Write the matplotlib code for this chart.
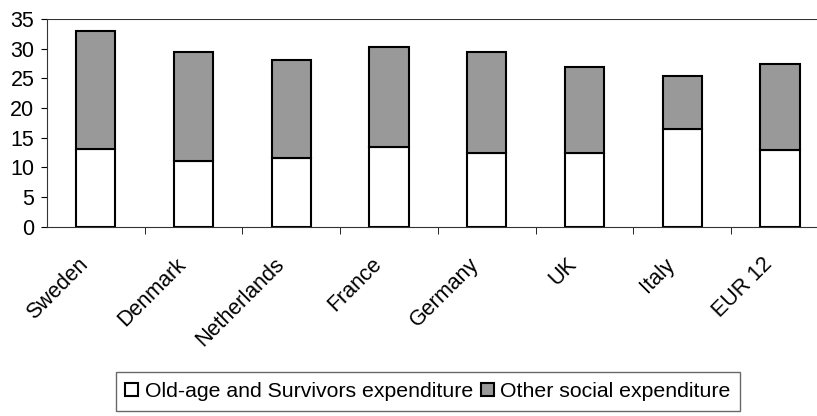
import matplotlib.pyplot as plt
import matplotlib.transforms as mtransforms
import numpy as np

plt.rcParams['font.family'] = ['Liberation Sans', 'DejaVu Sans']

countries = ['Sweden', 'Denmark', 'Netherlands', 'France', 'Germany', 'UK', 'Italy', 'EUR 12']
old_age = [13.15, 11.1, 11.65, 13.45, 12.5, 12.5, 16.4, 12.9]
totals = [33.05, 29.5, 28.05, 30.35, 29.45, 26.85, 25.4, 27.5]
other = [t - o for t, o in zip(totals, old_age)]

fig = plt.figure(figsize=(8.17, 4.16), dpi=100)
ax = fig.add_axes([0.0575, 0.455, 0.957, 0.499])

x = np.arange(len(countries))
ax.bar(x, old_age, width=0.4, color='white', edgecolor='black', linewidth=1.5,
       label='Old-age and Survivors expenditure')
ax.bar(x, other, bottom=old_age, width=0.4, color='#999999', edgecolor='black', linewidth=1.5,
       label='Other social expenditure')

ax.set_xlim(-0.5, len(countries) - 0.5)
ax.set_ylim(0, 35)
ax.set_yticks(range(0, 36, 5))
ax.tick_params(axis='y', labelsize=15.5, length=4, direction='out', pad=5)

# category labels at bar centres, tick marks between categories
ax.set_xticks(x)
ax.set_xticklabels(countries, rotation=45, ha='right', rotation_mode='anchor', fontsize=15.5)
ax.tick_params(axis='x', which='major', length=0, pad=16)
ax.set_xticks(np.arange(0.5, len(countries) - 0.5, 1), minor=True)
ax.tick_params(axis='x', which='minor', length=5, direction='out')
shift = mtransforms.ScaledTranslation(-18 / 100, -5 / 100, fig.dpi_scale_trans)
for lbl in ax.get_xticklabels():
    lbl.set_transform(lbl.get_transform() + shift)

ax.axhline(35, color='#333333', linewidth=1.5)
for s in ['top', 'right']:
    ax.spines[s].set_visible(False)
ax.spines['left'].set_color('#333333')
ax.spines['bottom'].set_color('#333333')

leg = fig.legend(loc='center', bbox_to_anchor=(0.524, 0.059), ncol=2, fontsize=15.3,
                 frameon=True, fancybox=False, edgecolor='#444444', handlelength=0.6,
                 handleheight=0.6, handletextpad=0.3, columnspacing=0.4, borderpad=0.45)
leg.get_frame().set_linewidth(1.0)

fig.savefig('out.png', dpi=100)
